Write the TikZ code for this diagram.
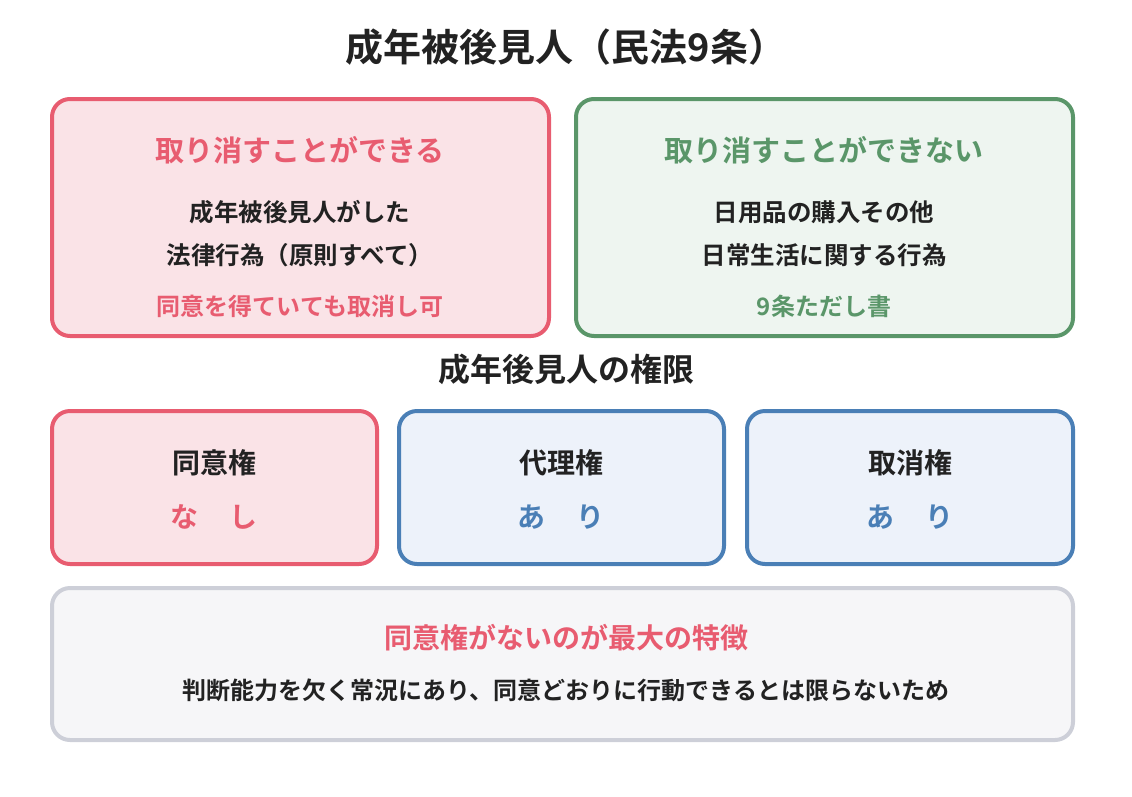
\documentclass[tikz,border=0pt]{standalone}
\usepackage{fontspec}
\setmainfont{Noto Sans CJK JP}[BoldFont={* Bold}]
\usepackage{tikz}
\usetikzlibrary{positioning}
\definecolor{pinkline}{RGB}{232,92,112}
\definecolor{pinkfill}{RGB}{250,227,231}
\definecolor{greenline}{RGB}{90,150,105}
\definecolor{greenfill}{RGB}{238,245,240}
\definecolor{blueline}{RGB}{74,127,182}
\definecolor{bluefill}{RGB}{237,242,250}
\definecolor{grayline}{RGB}{205,207,216}
\definecolor{grayfill}{RGB}{246,246,248}
\definecolor{inkc}{RGB}{34,34,34}

\begin{document}
\begin{tikzpicture}[x=1pt,y=-1pt,
    card/.style={draw,rounded corners=18pt,line width=4pt,inner sep=0pt},
    head/.style={font=\bfseries\fontsize{29}{32}\selectfont},
    body/.style={font=\bfseries\fontsize{24.5}{27}\selectfont,text=inkc},
    note/.style={font=\bfseries\fontsize{24}{27}\selectfont},
    label/.style={font=\bfseries\fontsize{28}{30}\selectfont,text=inkc},
    value/.style={font=\bfseries\fontsize{28}{30}\selectfont}]
    \useasboundingbox (0,0) rectangle (1132,796);
    \node[font=\bfseries\fontsize{38}{40}\selectfont,text=inkc] (title) at (566,47) {成年被後見人（民法9条）};
    % top row
    \draw[card,draw=pinkline,fill=pinkfill] (52,99) rectangle (549,336);
    \node[head,text=pinkline] (canL) at (300,150) {取り消すことができる};
    \node[body] (actL1) at (300,212) {成年被後見人がした};
    \node[body] (actL2) at (300,255) {法律行為（原則すべて）};
    \node[note,text=pinkline] (noteL) at (300,306) {同意を得ていても取消し可};
    \draw[card,draw=greenline,fill=greenfill] (576,99) rectangle (1073,336);
    \node[head,text=greenline] (canR) at (824,150) {取り消すことができない};
    \node[body] (actR1) at (824,212) {日用品の購入その他};
    \node[body] (actR2) at (824,255) {日常生活に関する行為};
    \node[note,text=greenline] (noteR) at (824,306) {9条ただし書};
    \node[font=\bfseries\fontsize{32}{34}\selectfont,text=inkc] (power) at (566,369) {成年後見人の権限};
    % three rights
    \draw[card,draw=pinkline,fill=pinkfill] (52,411) rectangle (377,564);
    \node[label] (agree) at (214,463) {同意権};
    \node[value,text=pinkline] (agreeV) at (214,517) {な\hspace{1.1em}し};
    \draw[card,draw=blueline,fill=bluefill] (399,411) rectangle (724,564);
    \node[label] (proxy) at (561,463) {代理権};
    \node[value,text=blueline] (proxyV) at (561,517) {あ\hspace{1.1em}り};
    \draw[card,draw=blueline,fill=bluefill] (747,411) rectangle (1073,564);
    \node[label] (cancel) at (910,463) {取消権};
    \node[value,text=blueline] (cancelV) at (910,517) {あ\hspace{1.1em}り};
    % summary
    \draw[card,draw=grayline,fill=grayfill] (52,588) rectangle (1073,740);
    \node[head,text=pinkline,font=\bfseries\fontsize{28}{30}\selectfont] (point) at (566,638) {同意権がないのが最大の特徴};
    \node[body,font=\bfseries\fontsize{24}{26}\selectfont] (reason) at (566,690) {判断能力を欠く常況にあり、同意どおりに行動できるとは限らないため};
\end{tikzpicture}
\end{document}
